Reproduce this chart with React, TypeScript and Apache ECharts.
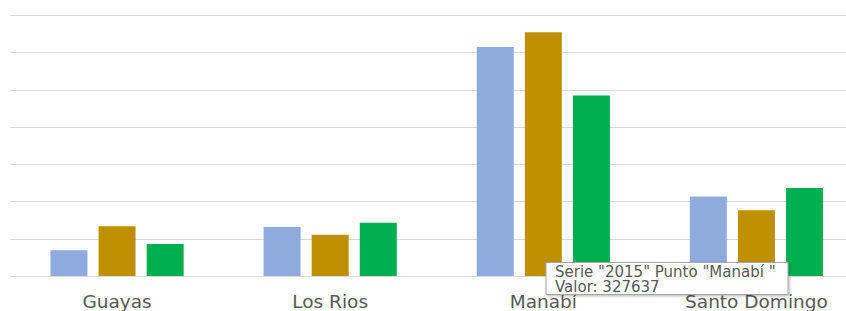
import React, { useEffect, useRef } from "react";
import * as echarts from "echarts";

const categories = ["Guayas", "Los Rios", "Manabí", "Santo Domingo"];
const seriesNames = ["2014", "2015", "2016"];
const values2014 = [34600, 65700, 307700, 106900];
const values2015 = [67000, 55500, 327637, 88300];
const values2016 = [43100, 71400, 242600, 118300];
const colors = ["#8faadc", "#bf9000", "#00b050"];
const tooltipLines = ['Serie "2015" Punto "Manabí "', "Valor: 327637"];

export default function App() {
  const ref = useRef<HTMLDivElement>(null);
  useEffect(() => {
    if (!ref.current) return;
    const chart = echarts.init(ref.current, undefined, { renderer: "svg" });
    const data = [values2014, values2015, values2016];
    chart.setOption({
      animation: false,
      grid: { left: 10.5, top: 15.5, right: 0, bottom: 32.3, containLabel: false },
      xAxis: {
        type: "category",
        data: categories,
        axisLine: { lineStyle: { color: "#d9d9d9", width: 1 } },
        axisTick: { show: false },
        axisLabel: {
          color: "#595959",
          fontFamily: "DejaVu Sans",
          fontSize: 18.5,
          margin: 16,
        },
      },
      yAxis: {
        type: "value",
        min: 0,
        max: 350000,
        interval: 50000,
        axisLabel: { show: false },
        axisLine: { show: false },
        axisTick: { show: false },
        splitLine: { lineStyle: { color: "#d9d9d9", width: 1 } },
      },
      series: seriesNames.map((name, i) => ({
        name,
        type: "bar",
        data: data[i],
        barWidth: 37,
        barGap: "30%",
        itemStyle: { color: colors[i] },
      })),
      graphic: [
        {
          type: "rect",
          z: 100,
          shape: { x: 546, y: 262.5, width: 242, height: 32 },
          style: {
            fill: "#ffffff",
            stroke: "#a6a6a6",
            lineWidth: 1,
            shadowBlur: 3,
            shadowOffsetX: 1,
            shadowOffsetY: 1,
            shadowColor: "rgba(0,0,0,0.3)",
          },
        },
        {
          type: "text",
          z: 101,
          x: 555,
          y: 264.5,
          style: {
            text: tooltipLines[0],
            fill: "#595959",
            font: "15px 'DejaVu Sans'",
          },
        },
        {
          type: "text",
          z: 101,
          x: 555,
          y: 279.5,
          style: {
            text: tooltipLines[1],
            fill: "#595959",
            font: "15px 'DejaVu Sans'",
          },
        },
      ],
    });
    return () => chart.dispose();
  }, []);
  return (
    <div style={{ position: "fixed", left: 0, top: 0, width: 846, height: 311, overflow: "hidden", background: "#fff" }}>
      <div ref={ref} style={{ width: 863, height: 311 }} />
    </div>
  );
}
